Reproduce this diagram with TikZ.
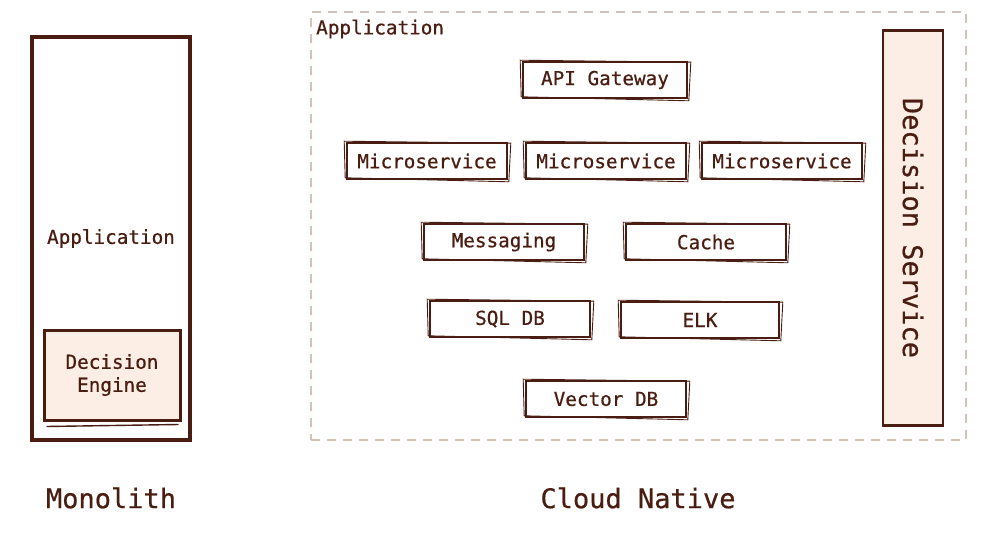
\documentclass[tikz,border=0pt]{standalone}
\usepackage{fontspec}
\newfontfamily\sketchfont{DejaVu Sans Mono}[FakeBold=0.6]
\definecolor{ink}{HTML}{4A1D12}
\definecolor{peach}{HTML}{FDEEE5}
\definecolor{dashc}{HTML}{D5C1B8}
\tikzset{
	txt/.style={text=ink,font=\sketchfont\fontsize{19.3}{23}\selectfont},
	big/.style={text=ink,font=\sketchfont\fontsize{27}{32}\selectfont},
	svc/.style={txt,draw=ink,line width=1.6pt,minimum width=160pt,minimum height=36pt},
}
% second, slightly shifted outline for the hand drawn look
\newcommand{\rough}[1]{%
	\draw[ink,line width=0.9pt] ([shift={(-2,-1)}]#1.north west) -- ([shift={(3,1)}]#1.north east)
		-- ([shift={(1,2)}]#1.south east) -- ([shift={(-1,-2)}]#1.south west) -- cycle;}
\begin{document}
\begin{tikzpicture}[x=1pt,y=-1pt]
	\useasboundingbox (0,0) rectangle (1004,540);
	% monolith
	\node[txt,draw=ink,line width=3.2pt,minimum width=158pt,minimum height=403pt] (mono) at (111,238.5) {Application};
	\node[txt,draw=ink,fill=peach,line width=3pt,minimum width=136pt,minimum height=90pt,align=center] (engine) at (112,375) {Decision\\ Engine};
	\draw[ink,line width=1.4pt] ([shift={(4,5)}]engine.south west) -- ([shift={(-3,3)}]engine.south east);
	\node[big] (monolbl) at (111,498) {Monolith};
	% cloud native
	\node[draw=dashc,line width=1.5pt,dash pattern=on 9pt off 7pt,minimum width=655pt,minimum height=428pt] (cloud) at (638.5,226) {};
	\node[txt,anchor=west,inner sep=0pt] (applbl) at (316,29) {Application};
	\node[svc,minimum width=164pt] (api) at (605,80) {API Gateway};
	\node[svc] (ms1) at (427,161) {Microservice};
	\node[svc] (ms2) at (606,161) {Microservice};
	\node[svc] (ms3) at (782,161) {Microservice};
	\node[svc] (msg) at (504,242) {Messaging};
	\node[svc] (cache) at (706,242) {Cache};
	\node[svc] (sql) at (510,319) {SQL DB};
	\node[svc,minimum width=158pt] (elk) at (700,320) {ELK};
	\node[svc] (vec) at (606,399) {Vector DB};
	\foreach \b in {api,ms1,ms2,ms3,msg,cache,sql,elk,vec}
		\rough{\b};
	\node[big,draw=ink,fill=peach,line width=2.2pt,rotate=-90,minimum width=395pt,minimum height=60pt] (decision) at (913,228) {Decision Service};
	\node[big] (cloudlbl) at (638,498) {Cloud Native};
\end{tikzpicture}
\end{document}
